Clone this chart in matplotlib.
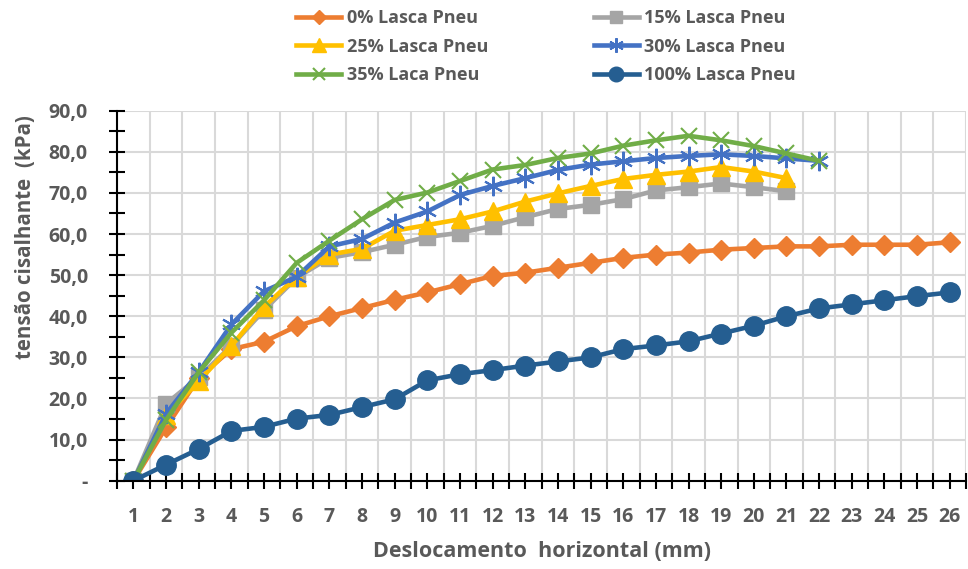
import numpy as np
import matplotlib.pyplot as plt
from matplotlib.ticker import FixedLocator, FuncFormatter

plt.rcParams['font.family'] = ['Open Sans', 'DejaVu Sans']

x = np.arange(1, 27)

p0 = [0, 13, 25, 32, 33.8, 37.6, 40, 42, 44, 45.8, 47.8, 49.8, 50.6, 51.8, 53.0,
      54.2, 55.0, 55.5, 56.2, 56.6, 57.0, 57.0, 57.4, 57.4, 57.4, 58.0]
p15 = [0, 18.7, 25.2, 32.8, 41.5, 49.4, 54.2, 55.6, 57.4, 59.3, 60.3, 62.0, 64.1,
       66.1, 67.1, 68.5, 70.6, 71.4, 72.3, 71.4, 70.4]
p25 = [0, 15.9, 24.2, 32.8, 42.3, 49.6, 55.0, 56.4, 60.8, 62.2, 63.6, 65.5, 67.9,
       69.9, 71.7, 73.4, 74.4, 75.2, 76.3, 75.2, 73.6]
p30 = [0, 16.3, 26.4, 38.0, 46.1, 49.6, 57.0, 58.8, 62.8, 65.5, 69.5, 71.7, 73.6,
       75.6, 76.9, 77.7, 78.5, 79.0, 79.4, 79.0, 78.4, 77.8]
p35 = [0, 14.8, 26.4, 36.0, 43.9, 53.0, 58.4, 63.6, 68.3, 70.1, 72.9, 75.7, 76.8,
       78.5, 79.6, 81.5, 82.8, 83.9, 82.8, 81.4, 79.6, 77.8]
p100 = [0, 3.9, 7.7, 12.1, 13.1, 15.1, 16.0, 17.9, 19.8, 24.4, 25.9, 26.9, 28.0,
        29.0, 30.0, 32.0, 32.9, 33.9, 35.8, 37.7, 40.0, 41.9, 42.9, 43.9, 44.9, 45.8]

txt = '#595959'

fig = plt.figure(figsize=(9.68, 5.69), dpi=100)
ax = fig.add_axes([0.121, 0.1552, 0.877, 0.6502])

lw = 3.3
h0, = ax.plot(x[:len(p0)], p0, color='#ED7D31', lw=lw, marker='D', ms=10, label='0% Lasca Pneu', zorder=3)
h15, = ax.plot(x[:len(p15)], p15, color='#A5A5A5', lw=lw, marker='s', ms=11, label='15% Lasca Pneu', zorder=3)
h25, = ax.plot(x[:len(p25)], p25, color='#FFC000', lw=lw, marker='^', ms=13, label='25% Lasca Pneu', zorder=3)
h30, = ax.plot(x[:len(p30)], p30, color='#4472C4', lw=lw, marker=(6, 2, 0), ms=14, mew=1.5,
               label='30% Lasca Pneu', zorder=3)
h35, = ax.plot(x[:len(p35)], p35, color='#70AD47', lw=lw, marker='x', ms=12, mew=1.5,
               label='35% Laca Pneu', zorder=3)
h100, = ax.plot(x[:len(p100)], p100, color='#255E91', lw=lw, marker='o', ms=14,
                label='100% Lasca Pneu', zorder=3)

ax.set_xlim(0.5, 26.5)
ax.set_ylim(0, 90)

ax.xaxis.set_major_locator(FixedLocator(x))
ax.xaxis.set_minor_locator(FixedLocator(np.arange(0.5, 27, 1)))
ax.yaxis.set_major_locator(FixedLocator(np.arange(0, 91, 10)))
ax.yaxis.set_minor_locator(FixedLocator(np.arange(5, 90, 10)))
ax.yaxis.set_major_formatter(FuncFormatter(lambda v, p: '-' if v == 0 else f'{v:.1f}'.replace('.', ',')))

ax.grid(False)
ax.grid(True, axis='x', which='minor', color='#D9D9D9', lw=1.5, zorder=0)
ax.grid(True, axis='y', which='major', color='#D9D9D9', lw=1.5, zorder=0)
ax.set_axisbelow(True)

ax.tick_params(axis='both', which='both', direction='inout', length=12, width=1.5, color='black')
ax.tick_params(axis='x', which='major', pad=13, labelsize=14, labelcolor=txt)
ax.tick_params(axis='y', which='major', pad=15, labelsize=14, labelcolor=txt)
for lab in ax.get_xticklabels() + ax.get_yticklabels():
    lab.set_fontweight('bold')

for s in ['top', 'right']:
    ax.spines[s].set_visible(False)
for s in ['left', 'bottom']:
    ax.spines[s].set_linewidth(1.5)
    ax.spines[s].set_color('black')
    ax.spines[s].set_zorder(4)

ax.set_xlabel('Deslocamento  horizontal (mm)', fontsize=15.5, fontweight='bold', color=txt, labelpad=10)
ax.set_ylabel('tensão cisalhante  (kPa)', fontsize=14.8, fontweight='bold', color=txt)
ax.yaxis.set_label_coords(-0.095, 0.659)

leg = fig.legend([h0, h25, h35, h15, h30, h100],
                 ['0% Lasca Pneu', '25% Lasca Pneu', '35% Laca Pneu',
                  '15% Lasca Pneu', '30% Lasca Pneu', '100% Lasca Pneu'],
                 ncol=2, loc='upper left', bbox_to_anchor=(0.289, 1.012), frameon=False,
                 prop={'size': 13, 'weight': 'bold'}, labelcolor=txt,
                 handlelength=2.5, handletextpad=0.3, columnspacing=5.85, labelspacing=0.57,
                 markerscale=0.75)

fig.savefig('out.png', dpi=100)
